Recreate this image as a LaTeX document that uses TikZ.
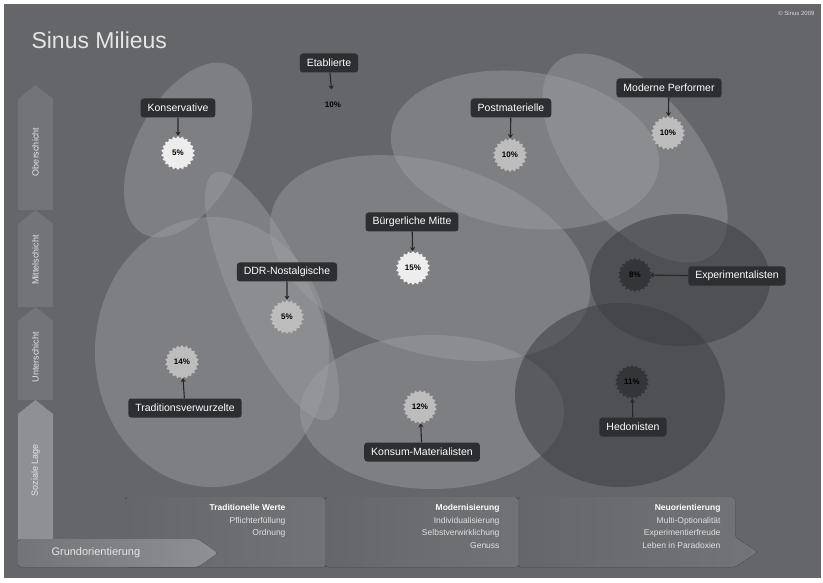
\documentclass[tikz,border=0pt]{standalone}
\usepackage{fontspec}
\setmainfont{Liberation Sans}
\usetikzlibrary{shapes.geometric,arrows.meta}
\definecolor{bg}{RGB}{100,102,106}
\definecolor{blob}{RGB}{160,162,166}
\definecolor{darkblob}{RGB}{60,62,66}
\definecolor{box}{RGB}{44,46,49}
\definecolor{axis}{RGB}{114,116,120}
\definecolor{axislight}{RGB}{142,144,148}

\begin{document}
\begin{tikzpicture}[x=1pt,y=-1pt,
  blob/.style={fill=blob,fill opacity=0.42},
  darkblob/.style={fill=darkblob,fill opacity=0.55},
  milieu/.style={fill=box,text=white,rounded corners=3pt,font=\fontsize{10.5}{12}\selectfont,minimum height=19pt,inner xsep=7pt},
  burst/.style={star,star points=22,star point ratio=1.16,minimum size=34pt,inner sep=0pt,font=\fontsize{8}{9}\selectfont\bfseries},
  lightburst/.style={burst,fill=white!93!black},
  grayburst/.style={burst,fill=white!74!black},
  darkburst/.style={burst,fill=darkblob!85!black},
  pointer/.style={-{Stealth[length=4pt,width=5pt]},line width=1.1pt,black!85},
  segment/.style={fill=axis},
  axislabel/.style={rotate=90,text=white!90!black,font=\fontsize{9}{10}\selectfont},
  orient/.style={align=right,anchor=north east,text=white!88!black,font=\fontsize{8.5}{12.5}\selectfont}]
  \useasboundingbox (0,0) rectangle (823,583);
  \fill[white] (0,0) rectangle (823,583);
  \fill[bg] (4,4) rectangle (821,578);

  % milieu areas
  \fill[blob] (212,352) ellipse (117 and 135);
  \fill[blob,rotate around={-28:(188,150)}] (188,150) ellipse (52 and 95);
  \fill[blob,rotate around={25:(272,296)}] (272,296) ellipse (38 and 136);
  \fill[blob] (432,412) ellipse (132 and 77);
  \fill[blob,rotate around={-8:(525,150)}] (525,150) ellipse (135 and 78);
  \fill[blob,rotate around={39:(635,158)}] (635,158) ellipse (64 and 124);
  \fill[blob,rotate around={-17:(430,258)}] (430,258) ellipse (165 and 95);
  \fill[darkblob] (620,395) ellipse (105 and 92);
  \fill[darkblob] (680,280) ellipse (90 and 66);

  % title
  \node[anchor=west,text=white!90!black,font=\fontsize{23}{26}\selectfont] (title) at (28,40) {Sinus Milieus};
  \node[anchor=north east,text=white!85!black,font=\fontsize{6}{7}\selectfont] (copy) at (818,8) {© Sinus 2009};

  % social position axis
  \foreach \ya/\yb in {85/210,210/307,307/400}
    \fill[segment] (18,\yb) -- (18,\ya+14) -- (35.5,\ya) -- (53,\ya+14) -- (53,\yb) -- cycle;
  \fill[axislight] (18,540) -- (18,414) -- (35.5,400) -- (53,414) -- (53,540) -- cycle;
  \node[axislabel] (ober) at (35.5,152) {Oberschicht};
  \node[axislabel] (mitte) at (35.5,260) {Mittelschicht};
  \node[axislabel] (unter) at (35.5,357) {Unterschicht};
  \node[axislabel] (lage) at (35.5,470) {Soziale Lage};

  % value orientation
  \fill[left color=bg,right color=axis,rounded corners=3pt] (125,497) -- (325,497) -- (325,537) -- (345,552) -- (325,567) -- (125,567) -- cycle;
  \fill[left color=bg,right color=axis,rounded corners=3pt] (325,497) -- (518,497) -- (518,537) -- (540,552) -- (518,567) -- (325,567) -- cycle;
  \fill[left color=bg,right color=axis,rounded corners=3pt] (518,497) -- (735,497) -- (735,537) -- (758,552) -- (735,567) -- (518,567) -- cycle;
  \fill[left color=axis,right color=axislight,rounded corners=3pt] (18,539) -- (198,539) -- (218,553) -- (198,567) -- (18,567) -- cycle;
  \node[anchor=west,text=white!90!black,font=\fontsize{11}{13}\selectfont] (grund) at (48,553) {Grundorientierung};
  \node[orient] (trad) at (289,501) {\textbf{\textcolor{white}{Traditionelle Werte}}\\Pflichterfüllung\\Ordnung};
  \node[orient] (modern) at (503,501) {\textbf{\textcolor{white}{Modernisierung}}\\Individualisierung\\Selbstverwirklichung\\Genuss};
  \node[orient] (neu) at (724,501) {\textbf{\textcolor{white}{Neuorientierung}}\\Multi-Optionalität\\Experimentierfreude\\Leben in Paradoxien};

  % milieus
  \node[milieu] (konsL) at (178,108) {Konservative};
  \node[lightburst] (konsP) at (178,153) {5\%};
  \node[milieu] (etabL) at (329,63) {Etablierte};
  \node[burst] (etabP) at (333,105) {10\%};
  \node[milieu] (postL) at (511,108) {Postmaterielle};
  \node[grayburst] (postP) at (510,155) {10\%};
  \node[milieu] (perfL) at (669,88) {Moderne Performer};
  \node[grayburst] (perfP) at (668,133) {10\%};
  \node[milieu] (mitL) at (412,222) {Bürgerliche Mitte};
  \node[lightburst] (mitP) at (413,268) {15\%};
  \node[milieu] (ddrL) at (287,272) {DDR-Nostalgische};
  \node[grayburst] (ddrP) at (287,317) {5\%};
  \node[milieu] (tradL) at (185,408) {Traditionsverwurzelte};
  \node[grayburst] (tradP) at (182,362) {14\%};
  \node[milieu] (konsumL) at (422,452) {Konsum-Materialisten};
  \node[grayburst] (konsumP) at (420,407) {12\%};
  \node[milieu] (expL) at (737,276) {Experimentalisten};
  \node[darkburst] (expP) at (635,275) {8\%};
  \node[milieu] (hedL) at (633,427) {Hedonisten};
  \node[darkburst] (hedP) at (632,382) {11\%};

  \draw[pointer] (konsL) -- (konsP);
  \draw[pointer] (etabL) -- (etabP);
  \draw[pointer] (postL) -- (postP);
  \draw[pointer] (perfL) -- (perfP);
  \draw[pointer] (mitL) -- (mitP);
  \draw[pointer] (ddrL) -- (ddrP);
  \draw[pointer] (tradL) -- (tradP);
  \draw[pointer] (konsumL) -- (konsumP);
  \draw[pointer] (expL) -- (expP);
  \draw[pointer] (hedL) -- (hedP);
\end{tikzpicture}
\end{document}
